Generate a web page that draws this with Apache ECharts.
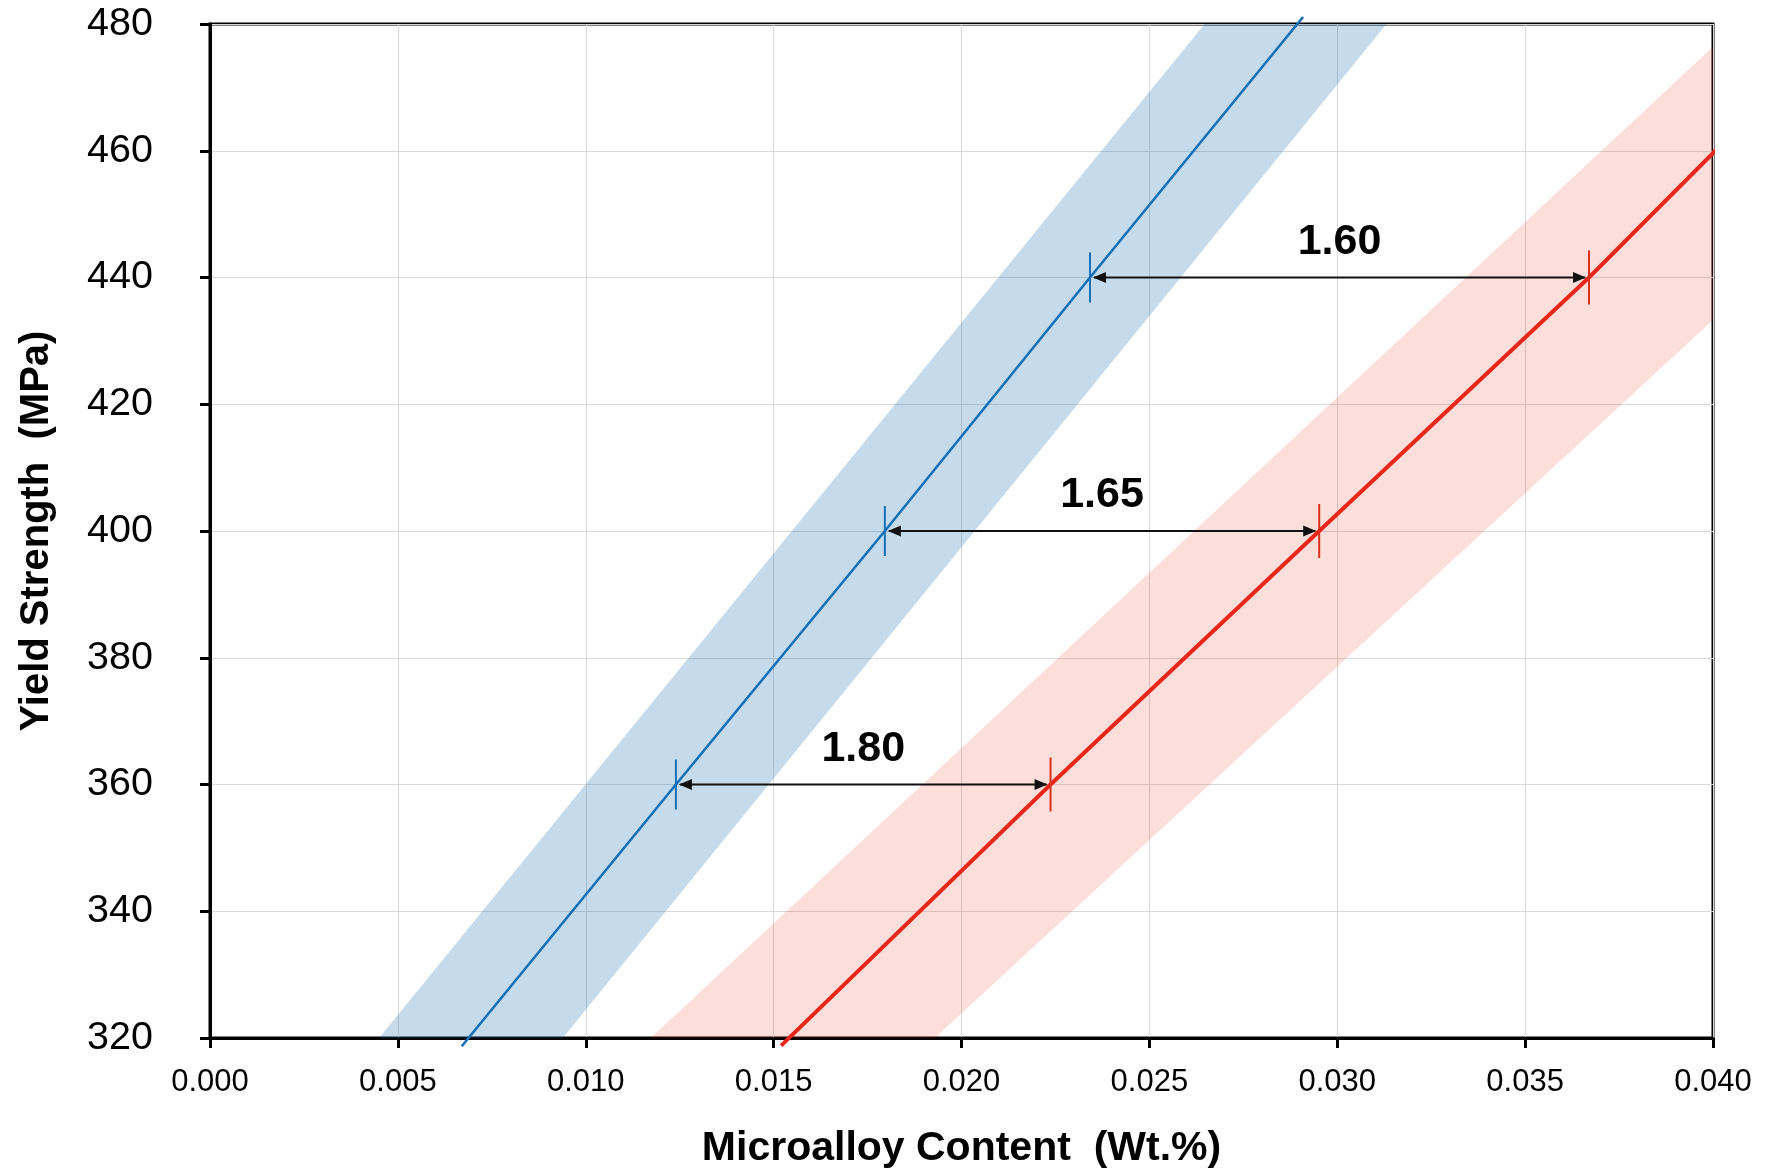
<!DOCTYPE html>
<html>
<head>
<meta charset="utf-8">
<title>Yield Strength vs Microalloy Content</title>
<script src="https://cdn.jsdelivr.net/npm/echarts@6/dist/echarts.min.js"></script>
<style>
  html, body { margin: 0; padding: 0; background: #ffffff; }
  #chart { width: 1771px; height: 1174px; }
</style>
</head>
<body>
<div id="chart"></div>
<script>
// Axis ranges and ticks
const xTicks = [0.000, 0.005, 0.010, 0.015, 0.020, 0.025, 0.030, 0.035, 0.040];
const yTicks = [320, 340, 360, 380, 400, 420, 440, 460, 480];

// Trend lines: [microalloy wt.%, yield strength MPa]
const blueLine = [[0.00670, 318.7], [0.01240, 360], [0.01796, 400], [0.02342, 440], [0.02909, 481.1]];
const redLine  = [[0.01520, 318.8], [0.02237, 360], [0.02952, 400], [0.03670, 440], [0.04023, 461.0]];

// Scatter bands around each trend line (polygon vertices)
const blueBand = [[0.00450, 320], [0.02647, 480], [0.03131, 480], [0.00939, 320]];
const redBand  = [[0.01173, 320], [0.04000, 476.4], [0.04000, 433.3], [0.01929, 320]];

// Content ratio annotations at fixed strength levels
const strengthLevels = [360, 400, 440];
const blueContent    = [0.01240, 0.01796, 0.02342];
const redContent     = [0.02237, 0.02952, 0.03670];
const ratioLabels    = ['1.80', '1.65', '1.60'];

const BLUE = '#1670b7';
const RED = '#e8261a';
const FONT = '"Liberation Sans", Arial, Helvetica, sans-serif';

const chart = echarts.init(document.getElementById('chart'), null, { renderer: 'canvas' });

function bandSeries(vertices, fill) {
  return {
    type: 'custom',
    coordinateSystem: 'cartesian2d',
    silent: true,
    z: 1,
    data: [vertices[0]],
    renderItem: function (params, api) {
      return {
        type: 'polygon',
        shape: { points: vertices.map(function (p) { return api.coord(p); }) },
        style: { fill: fill }
      };
    }
  };
}

const annotationData = strengthLevels.map(function (y, i) {
  return [blueContent[i], y, redContent[i], i];
});

const option = {
  backgroundColor: '#ffffff',
  animation: false,
  grid: {
    left: 210, top: 24, right: 58, bottom: 136,
    show: true, borderColor: '#000', borderWidth: 3,
    containLabel: false
  },
  xAxis: {
    type: 'value',
    min: xTicks[0], max: xTicks[xTicks.length - 1], interval: 0.005,
    name: 'Microalloy Content  (Wt.%)',
    nameLocation: 'middle', nameGap: 90,
    nameTextStyle: { fontFamily: FONT, fontSize: 41, fontWeight: 'bold', color: '#000' },
    axisLine: { show: true, onZero: false, lineStyle: { color: '#000', width: 3 } },
    axisTick: { show: true, inside: false, length: 10, lineStyle: { color: '#000', width: 3 } },
    axisLabel: {
      margin: 29, fontFamily: FONT, fontSize: 31, color: '#000',
      formatter: function (v) { return v.toFixed(3); }
    },
    splitLine: { show: true, lineStyle: { color: '#d9d9d9', width: 1 } }
  },
  yAxis: {
    type: 'value',
    min: yTicks[0], max: yTicks[yTicks.length - 1], interval: 20,
    name: 'Yield Strength  (MPa)',
    nameLocation: 'middle', nameGap: 153, nameRotate: 90,
    nameTextStyle: { fontFamily: FONT, fontSize: 40, fontWeight: 'bold', color: '#000' },
    axisLine: { show: true, onZero: false, lineStyle: { color: '#000', width: 3 } },
    axisTick: { show: true, inside: false, length: 10, lineStyle: { color: '#000', width: 3 } },
    axisLabel: { margin: 57, fontFamily: FONT, fontSize: 39.5, color: '#000' },
    splitLine: { show: true, lineStyle: { color: '#d9d9d9', width: 1 } }
  },
  series: [
    bandSeries(blueBand, 'rgba(23,111,179,0.25)'),
    bandSeries(redBand, 'rgba(235,35,8,0.15)'),
    {
      type: 'line',
      data: blueLine,
      clip: false,
      symbol: 'none',
      z: 3,
      lineStyle: { color: BLUE, width: 2.6 }
    },
    {
      type: 'line',
      data: redLine,
      clip: false,
      symbol: 'none',
      z: 3,
      lineStyle: { color: RED, width: 4 }
    },
    {
      type: 'custom',
      coordinateSystem: 'cartesian2d',
      silent: true,
      z: 5,
      data: annotationData,
      encode: { x: 0, y: 1 },
      renderItem: function (params, api) {
        const y = api.value(1);
        const p1 = api.coord([api.value(0), y]);
        const p2 = api.coord([api.value(2), y]);
        const idx = api.value(3);
        const headLen = 13, headHalf = 5.5;
        return {
          type: 'group',
          children: [
            // markers on each trend line
            { type: 'line', shape: { x1: p1[0], y1: p1[1] - 25, x2: p1[0], y2: p1[1] + 25 },
              style: { stroke: BLUE, lineWidth: 2 } },
            { type: 'line', shape: { x1: p2[0], y1: p2[1] - 27, x2: p2[0], y2: p2[1] + 27 },
              style: { stroke: '#d9301f', lineWidth: 2 } },
            // double-headed arrow
            { type: 'line', shape: { x1: p1[0] + 4, y1: p1[1], x2: p2[0] - 4, y2: p2[1] },
              style: { stroke: '#111', lineWidth: 2 } },
            { type: 'polygon', shape: { points: [
                [p1[0] + 3, p1[1]], [p1[0] + 3 + headLen, p1[1] - headHalf], [p1[0] + 3 + headLen, p1[1] + headHalf]] },
              style: { fill: '#111' } },
            { type: 'polygon', shape: { points: [
                [p2[0] - 3, p2[1]], [p2[0] - 3 - headLen, p2[1] - headHalf], [p2[0] - 3 - headLen, p2[1] + headHalf]] },
              style: { fill: '#111' } },
            // ratio label
            { type: 'text',
              style: {
                text: ratioLabels[idx],
                x: (p1[0] + p2[0]) / 2, y: p1[1] - 14,
                align: 'center', verticalAlign: 'bottom',
                font: 'bold 43px ' + FONT, fill: '#000'
              } }
          ]
        };
      }
    }
  ]
};

chart.setOption(option);
</script>
</body>
</html>
